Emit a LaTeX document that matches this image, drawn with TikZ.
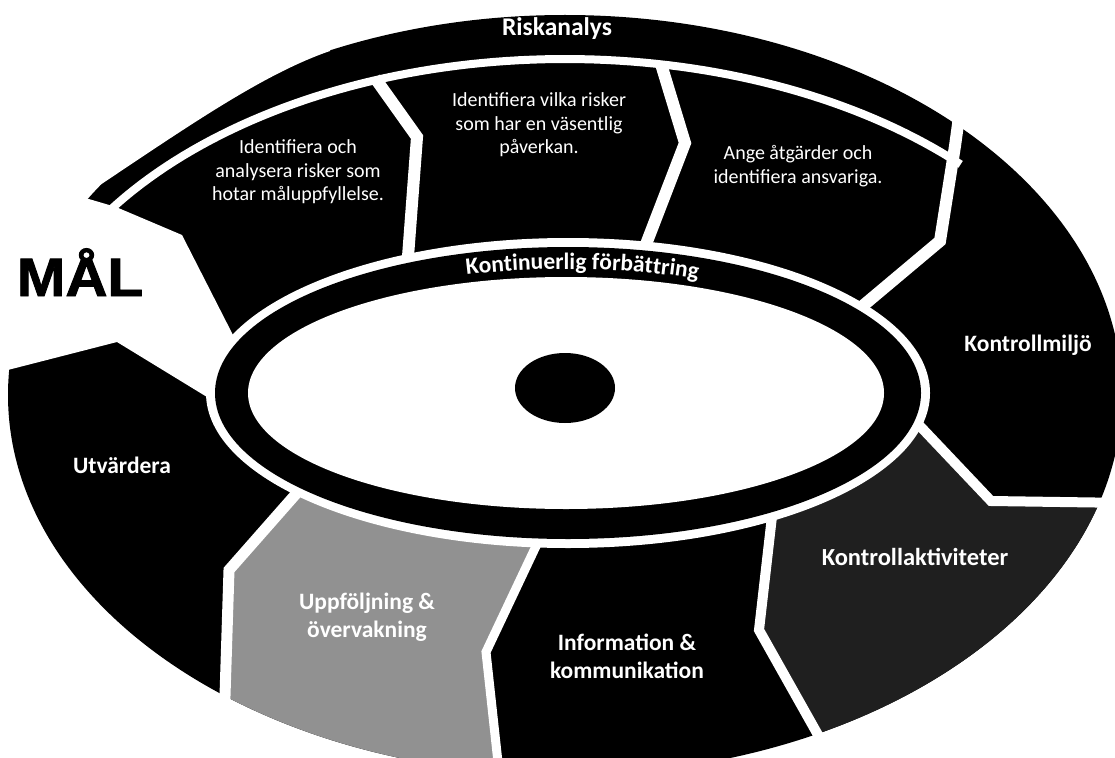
\documentclass[tikz,border=0pt]{standalone}
\usepackage{graphicx}
\usepackage{fontspec}
\setmainfont{Carlito}
\newfontfamily\malfont{Liberation Sans}[BoldFeatures={FakeBold=1.6}]
\usetikzlibrary{decorations.text}

\definecolor{uppgray}{gray}{0.57}
\definecolor{aktgray}{gray}{0.12}
\newcommand{\labelfont}{\bfseries\fontsize{23.5}{28}\selectfont}
\newcommand{\notefont}{\fontsize{20}{23.5}\selectfont}
\newcommand{\ringfont}{\bfseries\fontsize{23.5}{28}\selectfont}

\tikzset{
  lbl/.style={text=white, font=\labelfont, align=center, inner sep=0pt},
  note/.style={text=white, font=\notefont, align=center, inner sep=0pt},
  sep/.style={white, line width=#1, line join=miter},
  sep/.default=11pt,
}

\begin{document}
\begin{tikzpicture}[x=1pt, y=-1pt]
  \useasboundingbox (0,0) rectangle (1115,757);
  \clip (0,0) rectangle (1115,757);

  % outer body
  \fill[black] (565,395) ellipse[x radius=557, y radius=380];
  \begin{scope}
    \clip (565,395) ellipse[x radius=557, y radius=380];
    \fill[uppgray] (320,466) -- (229,570) -- (222,790) -- (501,790)
      -- (486,652) -- (534,550) -- (560,500) -- cycle;
    \fill[aktgray] (775,480) -- (759,630) -- (849,790) -- (1200,790)
      -- (1200,503) -- (991,501) -- (880,386) -- cycle;
  \end{scope}
  % flatter outer edge of the band at its left end
  \fill[white] (330,51) .. controls (260,75) and (180,132) .. (82,197)
    -- (0,251) -- (0,0) -- (330,0) -- cycle;

  % white separators
  \draw[sep=8pt] plot[domain=147:44, samples=80]
    ({565+550*cos(\x)}, {404-345*sin(\x)});
  \draw[sep=12pt] (375,78) -- (417,137) -- (407,270);
  \draw[sep=12pt] (661,64) -- (685,143) -- (638,265);
  \draw[sep=12pt] (962,95) -- (955,146) -- (940,241) -- (840,325);
  \draw[sep=10pt] (900,405) -- (991,501) -- (1130,503);
  \draw[sep=10pt] (775,490) -- (759,630) -- (849,790);
  \draw[sep=9pt] (546,525) -- (486,652) -- (501,790);
  \draw[sep=11pt] (310,478) -- (229,570) -- (222,790);

  % notch at MÅL
  \fill[white] (60,170) -- (82,197) -- (116,207) -- (182,235) -- (233,335)
    -- (250,360) -- (207,397) -- (117,342) -- (0,372) -- (0,170) -- cycle;

  % ring and centre
  \fill[white] (568,393) ellipse[x radius=362, y radius=155];
  \fill[black] (568,393) ellipse[x radius=353, y radius=146];
  \fill[white] (566,393) ellipse[x radius=318, y radius=116];
  \fill[black] (565,388) ellipse[x radius=50, y radius=35];

  \path[decorate, decoration={text along path, text align=center,
      text color=white, text={|\ringfont|Kontinuerlig förbättring}}]
    plot[domain=117:57, samples=40, smooth]
    ({567+332*cos(\x)}, {393-124*sin(\x)});

  % labels
  \node[lbl, font=\bfseries\fontsize{25.5}{30}\selectfont] (riskanalys) at (557,29) {Riskanalys};
  \node[note] (steg1) at (298,172) {Identifiera och\\analysera risker som\\hotar måluppfyllelse.};
  \node[note] (steg2) at (539,125) {Identifiera vilka risker\\som har en väsentlig\\påverkan.};
  \node[note] (steg3) at (798,166) {Ange åtgärder och\\identifiera ansvariga.};
  \node[lbl] (miljo) at (1028,345) {Kontrollmiljö};
  \node[lbl, font=\bfseries\fontsize{24.5}{29}\selectfont] (aktiviteter) at (915,557) {Kontrollaktiviteter};
  \node[lbl] (info) at (627,656) {Information \&\\kommunikation};
  \node[lbl] (uppfoljning) at (367,617) {Uppföljning \&\\övervakning};
  \node[lbl] (utvardera) at (122,465) {Utvärdera};
  \node[font=\malfont\bfseries\fontsize{54}{58}\selectfont, anchor=base,
    inner sep=0pt] (mal) at (80,296) {\scalebox{1.08}[1]{MÅL}};
\end{tikzpicture}
\end{document}
